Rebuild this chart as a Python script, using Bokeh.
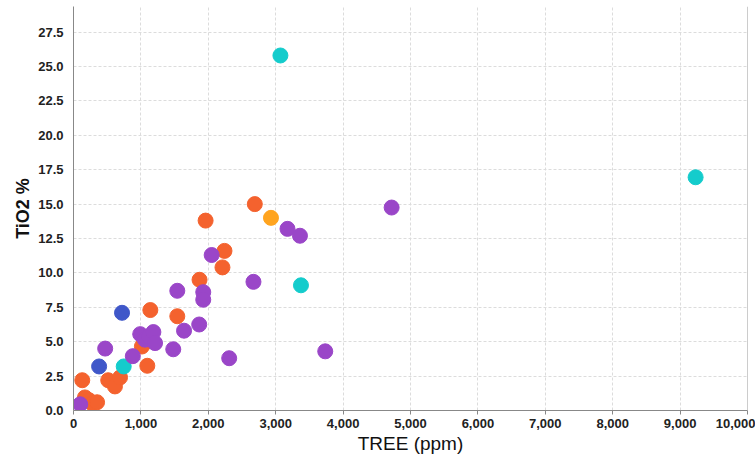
from bokeh.plotting import figure
from bokeh.models import Span, NumeralTickFormatter, SingleIntervalTicker, Range1d
from bokeh.embed import file_html
from bokeh.resources import INLINE

# ---- data (TREE ppm, TiO2 %) ----
orange_x = [2690, 1960, 2240, 2210, 1870, 1140, 1540, 1015, 1050, 1095, 130, 515, 615, 690, 170, 230, 280, 350]
orange_y = [15.0, 13.8, 11.6, 10.4, 9.5, 7.3, 6.85, 4.65, 4.9, 3.25, 2.2, 2.2, 1.75, 2.4, 0.95, 0.75, 0.5, 0.6]

amber_x = [2930]
amber_y = [14.0]

blue_x = [720, 380]
blue_y = [7.1, 3.2]

cyan_x = [3070, 9230, 3375, 745]
cyan_y = [25.8, 16.95, 9.1, 3.2]

purple_x = [4720, 3175, 3360, 2050, 2670, 1540, 1925, 1925, 1865, 1640, 1480, 2310, 3735,
            470, 880, 990, 1060, 1120, 1185, 1210, 100]
purple_y = [14.75, 13.2, 12.7, 11.3, 9.35, 8.7, 8.6, 8.05, 6.25, 5.8, 4.45, 3.8, 4.3,
            4.5, 3.95, 5.55, 5.15, 5.4, 5.7, 4.9, 0.45]

x_label = "TREE (ppm)"
y_label = "TiO2 %"

p = figure(width=755, height=457, output_backend="svg", toolbar_location=None,
           x_range=Range1d(0, 10000), y_range=Range1d(0, 29.36),
           min_border_left=73, min_border_right=8, min_border_top=6, min_border_bottom=47)
p.outline_line_color = None
p.background_fill_color = "white"
p.border_fill_color = "white"

size = 15
p.scatter(orange_x, orange_y, size=size, fill_color="#f4622e", line_color="#f4622e")
p.scatter(amber_x, amber_y, size=size, fill_color="#ffa41f", line_color="#ffa41f")
p.scatter(blue_x, blue_y, size=size, fill_color="#3f57c9", line_color="#3f57c9")
p.scatter(cyan_x, cyan_y, size=size, fill_color="#14cccc", line_color="#14cccc")
p.scatter(purple_x, purple_y, size=size, fill_color="#9a46c8", line_color="#9a46c8")

p.add_layout(Span(location=10000, dimension="height", line_color="#999999", line_width=1))

# grid
for g in (p.xgrid, p.ygrid):
    g.grid_line_color = "#dcdcdc"
    g.grid_line_dash = "3 2"
    g.grid_line_width = 1

# axes
p.xaxis.ticker = SingleIntervalTicker(interval=1000)
p.yaxis.ticker = SingleIntervalTicker(interval=2.5)
p.xaxis.formatter = NumeralTickFormatter(format="0,0")
p.yaxis.formatter = NumeralTickFormatter(format="0.0")
p.xgrid.ticker = p.xaxis.ticker
p.ygrid.ticker = p.yaxis.ticker

for ax in (p.xaxis, p.yaxis):
    ax.axis_line_color = "#888888"
    ax.major_tick_line_color = "#888888"
    ax.minor_tick_line_color = None
    ax.major_label_text_font = "Liberation Sans"
    ax.major_label_text_font_style = "bold"
    ax.major_label_text_font_size = "13px"
    ax.major_label_text_color = "#222222"
    ax.axis_label_text_font = "Liberation Sans"
    ax.axis_label_text_color = "#111111"

p.xaxis.major_tick_in = 0
p.xaxis.major_tick_out = 4
p.xaxis.major_label_standoff = 4
p.xaxis.axis_label = x_label
p.xaxis.axis_label_text_font_size = "19px"
p.xaxis.axis_label_text_font_style = "normal"
p.xaxis.axis_label_standoff = 2

p.yaxis.major_tick_in = 0
p.yaxis.major_tick_out = 0
p.yaxis.major_label_standoff = 6
p.yaxis.axis_label = y_label
p.yaxis.axis_label_text_font_size = "18px"
p.yaxis.axis_label_text_font_style = "bold"
p.yaxis.axis_label_standoff = 2

open("out.html", "w").write(file_html(p, INLINE))
